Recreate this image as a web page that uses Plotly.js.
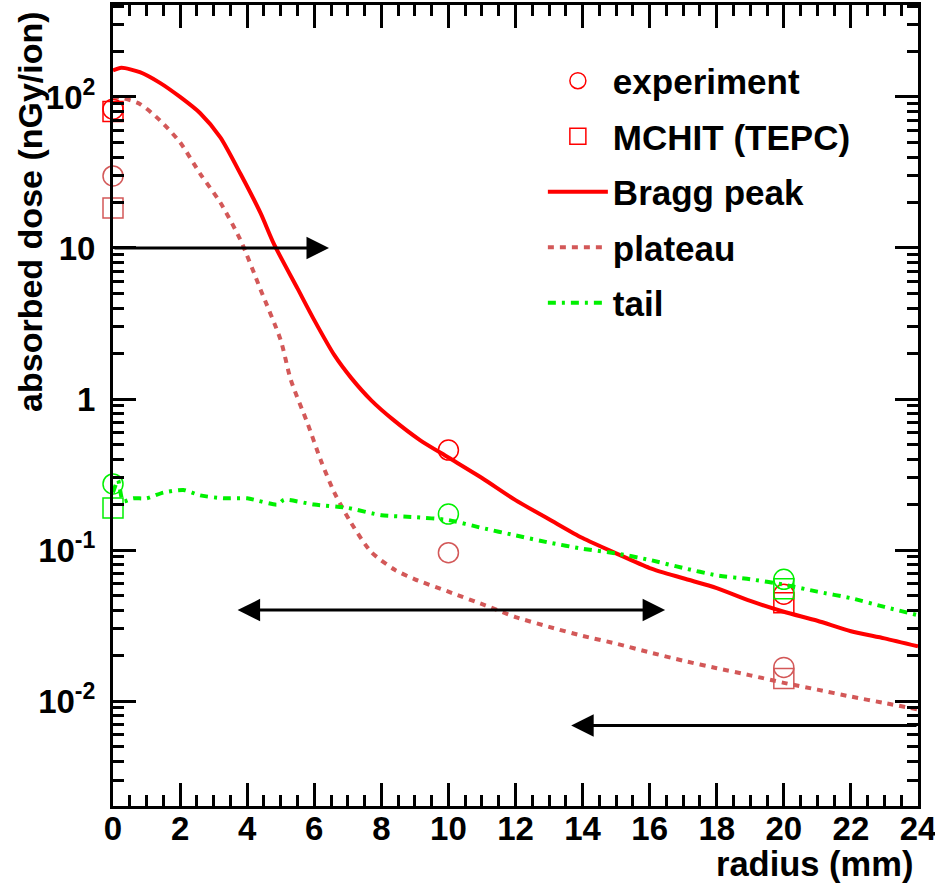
<!DOCTYPE html>
<html>
<head>
<meta charset="utf-8">
<script src="https://cdn.plot.ly/plotly-3.0.1.min.js"></script>
<style>
  html, body { margin: 0; padding: 0; background: #ffffff; }
  #chart { width: 935px; height: 886px; }
</style>
</head>
<body>
<div id="chart"></div>
<script>
// Radial dose profiles of the ion track (absorbed dose vs. radius)

// Bragg peak model curve
const braggX = [0, 0.25, 0.8, 1.4, 2.0, 2.6, 3.2, 3.8, 4.4, 4.8, 5.5, 6.0, 6.6, 7.1, 7.7, 8.35, 9.15, 10, 11, 12, 13, 14, 15, 16, 17, 18, 19, 20, 21, 22, 23, 24];
const braggY = [150, 156, 146, 124, 100, 78, 54, 31, 17, 10.6, 5.4, 3.33, 1.95, 1.38, 0.98, 0.73, 0.535, 0.41, 0.30, 0.214, 0.16, 0.12, 0.095, 0.076, 0.065, 0.056, 0.046, 0.039, 0.034, 0.029, 0.026, 0.023];

// Plateau model curve
const plateauX = [0, 0.3, 0.8, 1.4, 2.0, 2.6, 3.2, 3.8, 4.4, 5.0, 5.3, 5.8, 6.2, 6.6, 7.1, 7.7, 8.4, 9.0, 10, 11.1, 12, 13, 14, 15, 16, 17, 18, 19, 20, 21, 22, 23, 24];
const plateauY = [100, 98, 90, 70, 50, 31, 20, 11.3, 5.3, 2.45, 1.34, 0.69, 0.39, 0.24, 0.151, 0.097, 0.074, 0.064, 0.053, 0.043, 0.036, 0.031, 0.027, 0.024, 0.021, 0.0185, 0.0165, 0.0148, 0.0132, 0.0119, 0.0107, 0.0097, 0.0088];

// Tail model curve
const tailX = [0, 0.15, 0.3, 0.6, 1.0, 1.5, 2.1, 2.6, 3.3, 4.0, 4.9, 5.1, 6.0, 7.0, 8.0, 9.0, 10, 11, 12, 13, 14, 15, 16, 17, 18, 19, 20, 21, 22, 23, 24];
const tailY = [0.24, 0.29, 0.21, 0.22, 0.22, 0.24, 0.25, 0.23, 0.22, 0.22, 0.20, 0.215, 0.20, 0.19, 0.17, 0.165, 0.158, 0.14, 0.125, 0.112, 0.102, 0.095, 0.086, 0.076, 0.068, 0.064, 0.059, 0.053, 0.048, 0.042, 0.037];

// Measured points (experiment)
const expX = [0, 10, 20];
const expBragg = [83, 0.459, 0.051];
const expPlateau = [30, 0.096, 0.0167];
const expTail = [0.274, 0.173, 0.064];

// MCHIT (TEPC) simulation points
const mchitX = [0, 20];
const mchitBragg = [80, 0.0448];
const mchitPlateau = [18.4, 0.0141];
const mchitTail = [0.19, 0.0555];

// Range arrows: level, start radius, tip radius, head on both ends
const arrowLevel = [10, 0.04, 0.0069];
const arrowFrom = [0, 3.67, 24];
const arrowTo = [6.44, 16.46, 13.66];
const arrowBoth = [false, true, false];

// Axis ticks
const xTickVals = [0, 2, 4, 6, 8, 10, 12, 14, 16, 18, 20, 22, 24];
const yTickVals = [0.01, 0.1, 1, 10, 100];
const yTickText = ['10<sup>-2</sup>', '10<sup>-1</sup>', '1', '10', '10<sup>2</sup>'];

const FONT = 'Liberation Sans, Arial, Helvetica, sans-serif';
const RED = '#ff0000';
const PLATEAU = '#d35858';
const GREEN = '#00f000';

const markerTrace = (x, y, symbol, color, extra) => Object.assign({
  x: x, y: y, mode: 'markers', cliponaxis: false,
  marker: { symbol: symbol, size: 20, color: color, line: { width: 1.5 } }
}, extra);

const traces = [
  markerTrace(expX, expBragg, 'circle-open', RED, { name: 'experiment', legendgroup: 'g1' }),
  markerTrace(mchitX, mchitBragg, 'square-open', RED, { name: 'MCHIT (TEPC)', legendgroup: 'g2' }),
  { x: braggX, y: braggY, name: 'Bragg peak', mode: 'lines', legendgroup: 'g3',
    line: { color: RED, width: 4, shape: 'spline', smoothing: 0.7 } },
  { x: plateauX, y: plateauY, name: 'plateau', mode: 'lines', legendgroup: 'g4',
    line: { color: PLATEAU, width: 4, dash: '6px,6px', shape: 'spline', smoothing: 0.7 } },
  { x: tailX, y: tailY, name: 'tail', mode: 'lines', legendgroup: 'g5',
    line: { color: GREEN, width: 4, dash: '8px,6px,3px,6px', shape: 'spline', smoothing: 0.6 } },
  markerTrace(expX, expPlateau, 'circle-open', PLATEAU, { showlegend: false }),
  markerTrace(expX, expTail, 'circle-open', GREEN, { showlegend: false }),
  markerTrace(mchitX, mchitPlateau, 'square-open', PLATEAU, { showlegend: false }),
  markerTrace(mchitX, mchitTail, 'square-open', GREEN, { showlegend: false })
];

const annotations = arrowLevel.map((lvl, i) => ({
  xref: 'x', yref: 'y', axref: 'x', ayref: 'y',
  x: arrowTo[i], y: Math.log10(lvl),
  ax: arrowFrom[i], ay: Math.log10(lvl),
  text: '', showarrow: true,
  arrowside: arrowBoth[i] ? 'end+start' : 'end',
  arrowhead: 2, startarrowhead: 2,
  arrowsize: 1.5, startarrowsize: 1.5,
  arrowwidth: 3, arrowcolor: '#000000', standoff: 0, startstandoff: 0
}));

annotations.push({
  xref: 'paper', yref: 'paper', x: -0.103, y: 0.994,
  xanchor: 'center', yanchor: 'top', textangle: -90,
  text: 'absorbed dose (nGy/ion)', showarrow: false,
  font: { family: FONT, size: 34, weight: 'bold', color: '#000000' }
});
annotations.push({
  xref: 'paper', yref: 'paper', x: 1, y: -0.073, xshift: -3,
  xanchor: 'right', yanchor: 'middle',
  text: 'radius (mm)', showarrow: false,
  font: { family: FONT, size: 34.5, weight: 'bold', color: '#000000' }
});

const axisCommon = {
  showline: true, linewidth: 3, linecolor: '#000000', mirror: 'allticks',
  ticks: 'inside', ticklen: 23, tickwidth: 3, tickcolor: '#000000',
  showgrid: false, zeroline: false, ticklabeloverflow: 'allow',
  tickfont: { family: FONT, size: 33, weight: 'bold', color: '#000000' }
};

const layout = {
  width: 935, height: 886,
  margin: { l: 113, r: 17, t: 5, b: 80 },
  paper_bgcolor: '#ffffff', plot_bgcolor: '#ffffff',
  showlegend: true,
  legend: {
    x: 0.534, y: 0.942, xanchor: 'left', yanchor: 'top',
    bgcolor: 'rgba(0,0,0,0)', borderwidth: 0,
    traceorder: 'grouped', tracegroupgap: 7, itemwidth: 60,
    font: { family: FONT, size: 35, weight: 'bold', color: '#000000' }
  },
  xaxis: Object.assign({}, axisCommon, {
    range: [0, 24], tickmode: 'array', tickvals: xTickVals,
    ticklabelstandoff: -9,
    minor: { dtick: 0.5, ticks: 'inside', ticklen: 11, tickwidth: 3, tickcolor: '#000000', showgrid: false }
  }),
  yaxis: Object.assign({}, axisCommon, {
    type: 'log', range: [-2.695, 2.609],
    tickmode: 'array', tickvals: yTickVals, ticktext: yTickText,
    ticklabelstandoff: 8,
    minor: { dtick: 'D1', ticks: 'inside', ticklen: 11, tickwidth: 3, tickcolor: '#000000', showgrid: false }
  }),
  annotations: annotations
};

Plotly.newPlot('chart', traces, layout, { displayModeBar: false, staticPlot: true });
</script>
</body>
</html>
